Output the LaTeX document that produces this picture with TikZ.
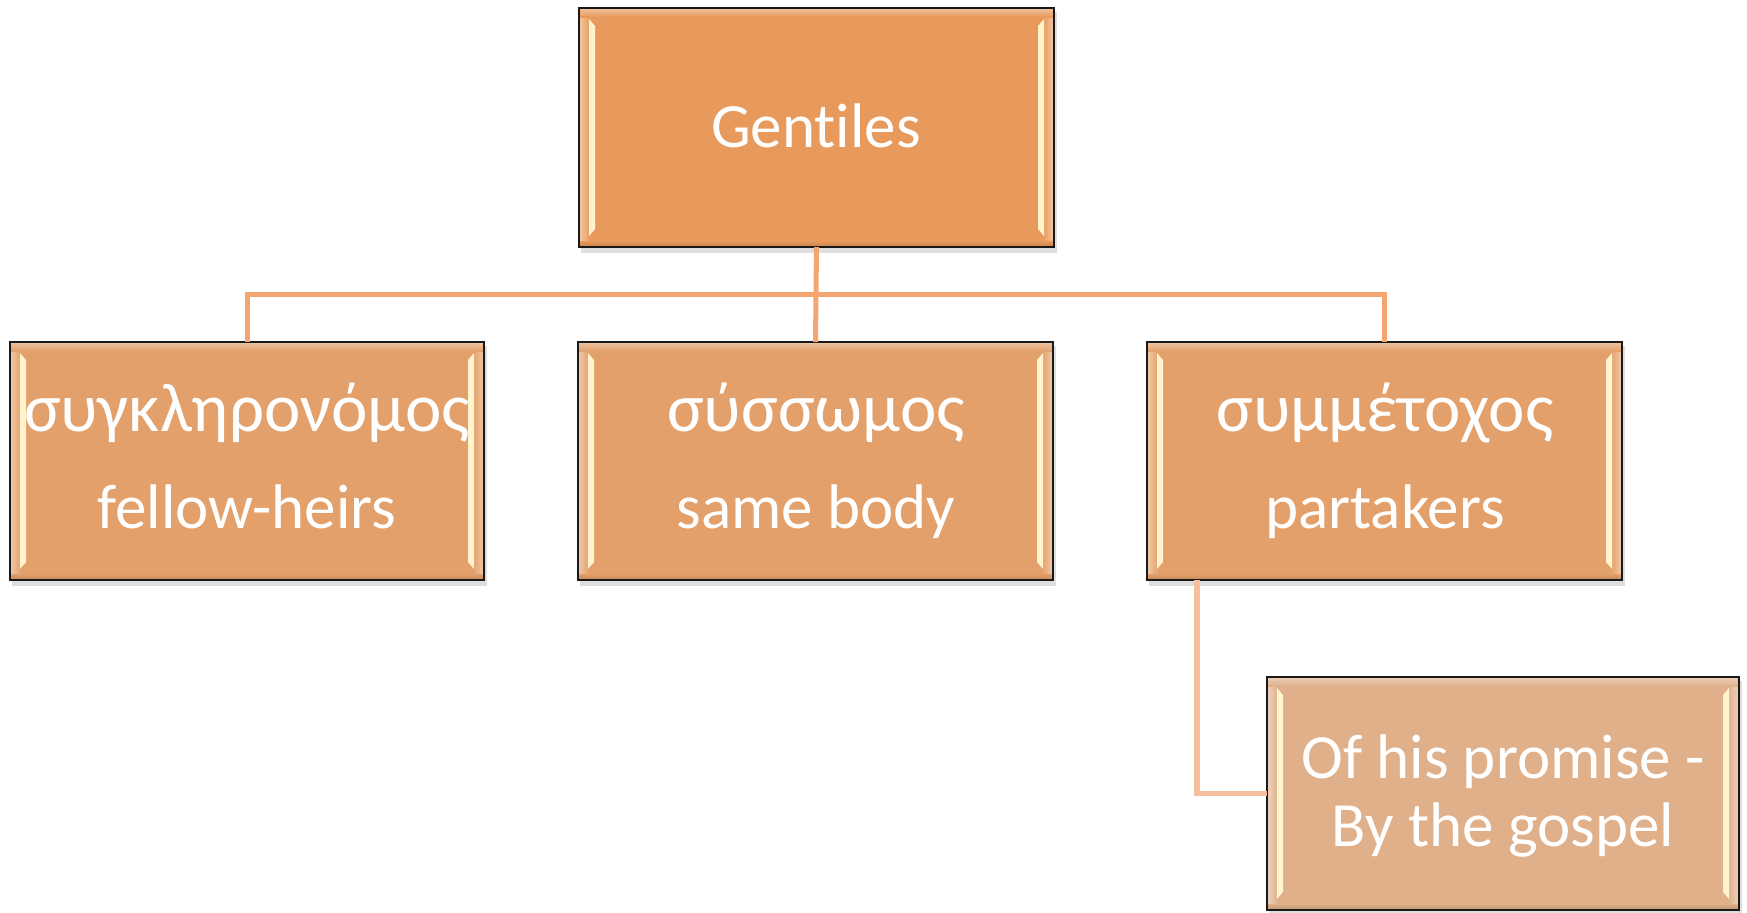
\documentclass[tikz,border=0pt]{standalone}
\usepackage{fontspec}
\setmainfont{Carlito}[Ligatures=NoCommon]
\usetikzlibrary{calc,fit}
\definecolor{fillG}{RGB}{232,154,92}
\definecolor{fillR}{RGB}{227,160,106}
\definecolor{fillB}{RGB}{223,176,138}
\definecolor{connA}{RGB}{245,166,112}
\definecolor{connB}{RGB}{246,190,156}
\definecolor{stripcol}{RGB}{255,244,205}
\definecolor{bordercol}{RGB}{25,25,25}
\tikzset{
  boxfill/.style={inner sep=0pt, outer sep=0pt, draw=none},
  boxborder/.style={draw=bordercol, line width=1.3pt},
  txt/.style={text=white, font=\fontsize{31.5}{38}\selectfont, inner sep=0pt, anchor=base},
  gtxt/.style={txt, font=\fontsize{34.5}{40}\selectfont},
  conn/.style={draw=connA, line width=2.5pt},
  connlow/.style={draw=connB, line width=2.8pt},
}
% #1 name, (#2,#3) top-left, (#4,#5) bottom-right, #6 fill colour
\newcommand\mkbox[6]{%
  \fill[black, opacity=0.13] ($(#2,#3)+(2,4)$) rectangle ($(#4,#5)+(3,6)$);
  \node[boxfill, fill=#6, fit={(#2,#3) (#4,#5)}] (#1) {};
  \shade[left color=#6!55!white, right color=#6] (#1.north west) rectangle ($(#1.south west)+(11,0)$);
  \shade[left color=#6, right color=#6!55!white] ($(#1.north east)+(-11,0)$) rectangle (#1.south east);
  \shade[top color=#6!60!white, bottom color=#6] ($(#1.north west)+(0,0)$) rectangle ($(#1.north east)+(0,9)$);
  \shade[top color=#6, bottom color=#6!85!black] ($(#1.south west)+(0,-6)$) rectangle (#1.south east);
  \fill[stripcol] ($(#1.north west)+(10,11)$) -- ($(#1.north west)+(16,18)$) -- ($(#1.south west)+(16,-18)$) -- ($(#1.south west)+(10,-11)$) -- cycle;
  \fill[stripcol] ($(#1.north east)+(-10,11)$) -- ($(#1.north east)+(-16,18)$) -- ($(#1.south east)+(-16,-18)$) -- ($(#1.south east)+(-10,-11)$) -- cycle;
  \draw[boxborder] (#1.north west) rectangle (#1.south east);
}
\begin{document}
\begin{tikzpicture}[x=0.5pt, y=-0.5pt]
\fill[white] (0,0) rectangle (1747,912);
\useasboundingbox (0,0) rectangle (1747,912);

\coordinate (bus) at (816,294);
\coordinate (tap) at (1197,580);

\mkbox{gent}{579}{8}{1054}{247}{fillG}
\mkbox{left}{10}{342}{484}{580}{fillR}
\mkbox{mid}{578}{342}{1053}{580}{fillR}
\mkbox{right}{1147}{342}{1622}{580}{fillR}
\mkbox{bot}{1267}{677}{1739}{910}{fillB}

\draw[conn] (gent.south) -- (bus);
\draw[conn] (bus) -| (left.north);
\draw[conn] (bus) -- (mid.north);
\draw[conn] (bus) -| (right.north);
\draw[connlow] (tap) |- (bot.west);

\node[txt] (tg) at (816,147) {Gentiles};
\node[gtxt] (tl1) at (247,431) {συγκληρονόμος};
\node[txt] (tl2) at (247,528) {fellow-heirs};
\node[gtxt] (tm1) at (816,431) {σύσσωμος};
\node[txt] (tm2) at (816,528) {same body};
\node[gtxt] (tr1) at (1385,431) {συμμέτοχος};
\node[txt] (tr2) at (1385,528) {partakers};
\node[txt] (tb1) at (1503,778) {Of his promise -};
\node[txt] (tb2) at (1503,846) {By the gospel};
\end{tikzpicture}
\end{document}
